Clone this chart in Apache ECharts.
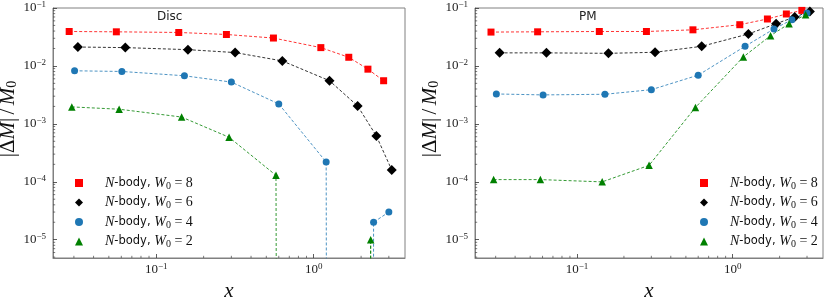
<!DOCTYPE html>
<html>
<head>
<meta charset="utf-8">
<script src="https://cdn.jsdelivr.net/npm/echarts@6/dist/echarts.min.js"></script>
<style>
html,body{margin:0;padding:0;background:#fff;}
#chart{width:830px;height:302px;}
</style>
</head>
<body>
<div id="chart"></div>
<script>
// ---- data ----
// matplotlib clips non-positive values on a log axis; they are drawn as an (almost) infinitely low point
const NONPOS = 1e-300;

const X_W8 = [0.028, 0.0558, 0.139, 0.279, 0.555, 1.11, 1.67, 2.21, 2.78];
const X_W6 = [0.0318, 0.0636, 0.159, 0.317, 0.632, 1.26, 1.90, 2.50, 3.13];
const X_W4 = [0.0303, 0.0605, 0.151, 0.300, 0.600, 1.20, 1.84, 2.40, 3.00];
const X_W2 = [0.0291, 0.0581, 0.145, 0.290, 0.576, 1.17, 1.75, 2.30, 2.94];

const DISC_W8 = [0.0393, 0.0388, 0.0378, 0.0349, 0.0303, 0.0207, 0.0141, 0.00879, 0.00555];
const DISC_W6 = [0.0212, 0.0207, 0.0191, 0.0170, 0.0122, 0.00555, 0.00204, 0.000618, 0.000160];
const DISC_W4 = [0.00824, 0.00802, 0.00676, 0.00526, 0.00221, 0.000219, NONPOS, 2.0e-5, 3.0e-5];
const DISC_W2 = [0.00196, 0.00179, 0.00131, 0.000587, 0.000129, NONPOS, NONPOS, 1.0e-5, NONPOS];

const PM_W8 = [0.0384, 0.0388, 0.0393, 0.0393, 0.0420, 0.0515, 0.0646, 0.0788, 0.0909];
const PM_W6 = [0.0168, 0.0168, 0.0165, 0.0172, 0.0218, 0.0356, 0.0536, 0.0700, 0.0873];
const PM_W4 = [0.00328, 0.00316, 0.00324, 0.00389, 0.00693, 0.0218, 0.0435, 0.0628, 0.0820];
const PM_W2 = [1.09e-4, 1.09e-4, 9.96e-5, 1.92e-4, 0.00192, 0.0143, 0.0333, 0.0536, 0.0766];

const PANEL_TITLES = ['Disc', 'PM'];
const SERIES_NAMES = ['N-body, W0 = 8', 'N-body, W0 = 6', 'N-body, W0 = 4', 'N-body, W0 = 2'];
const W_VALUES = ['8', '6', '4', '2'];

const X_MIN = 0.0221, X_MAX = 3.8;
const Y_MIN = 4.83e-6, Y_MAX = 0.1;

// ---- styles ----
const COLORS = ['#ff0000', '#000000', '#1f77b4', '#008000'];
const SYMBOLS = ['rect', 'diamond', 'circle', 'triangle'];
const SYMBOL_SIZES = [7, 10, 7, 7.5];
const SERIF = 'Liberation Serif';
const SANS = 'DejaVu Sans';

function zip(xs, ys) { return xs.map((x, i) => [x, ys[i]]); }

const XS = [X_W8, X_W6, X_W4, X_W2];
const PANELS = [[DISC_W8, DISC_W6, DISC_W4, DISC_W2], [PM_W8, PM_W6, PM_W4, PM_W2]];

const grids = [
  {left: 53, top: 8, width: 352, height: 250},
  {left: 475, top: 8, width: 348, height: 250}
];

function powLabel(v) {
  const e = Math.round(Math.log10(v));
  if (Math.abs(Math.log10(v) - e) > 1e-6) return '';
  const s = e < 0 ? '\u2212' + (-e) : String(e);
  return '{b|10}{s|' + s + '}';
}
const tickRich = {
  b: {fontFamily: SERIF, fontSize: 13, color: '#222'},
  s: {fontFamily: SERIF, fontSize: 9, color: '#222', padding: [0, 0, 7, 0]}
};

// minor tick positions (axis decoration)
function minorTicks(lo, hi) {
  const out = [];
  for (let e = Math.floor(Math.log10(lo)); e <= Math.ceil(Math.log10(hi)); e++) {
    for (let m = 2; m <= 9; m++) {
      const v = m * Math.pow(10, e);
      if (v > lo && v < hi) out.push(v);
    }
  }
  return out;
}
const MINOR_X = minorTicks(X_MIN, X_MAX);
const MINOR_Y = minorTicks(Y_MIN, Y_MAX);

const xAxes = [], yAxes = [], series = [], titles = [], legends = [];

for (let p = 0; p < 2; p++) {
  xAxes.push({
    type: 'log', logBase: 10, gridIndex: p, min: X_MIN, max: X_MAX,
    axisLine: {show: true, lineStyle: {color: '#808080', width: 1}},
    axisTick: {show: true, inside: true, length: 4, lineStyle: {color: '#333', width: 0.8}},
    axisLabel: {formatter: powLabel, rich: tickRich, margin: 4, showMinLabel: false, showMaxLabel: false},
    splitLine: {show: false},
    name: 'x', nameLocation: 'middle', nameGap: 15,
    nameTextStyle: {fontFamily: SERIF, fontStyle: 'italic', fontSize: 21, color: '#111'}
  });
  yAxes.push({
    type: 'log', logBase: 10, gridIndex: p, min: Y_MIN, max: Y_MAX,
    axisLine: {show: true, lineStyle: {color: '#808080', width: 1}},
    axisTick: {show: true, inside: true, length: 4, lineStyle: {color: '#333', width: 0.8}},
    axisLabel: {formatter: powLabel, rich: tickRich, margin: 7, showMinLabel: false},
    splitLine: {show: false},
    name: '{a||}{d|\u0394}{m|M}{a||} {a|/} {m|M}{sub|0}',
    nameLocation: 'middle', nameGap: 25,
    nameTextStyle: {
      padding: [0, 0, 0, 28],
      rich: {
        a: {fontFamily: SERIF, fontSize: 21, color: '#111'},
        d: {fontFamily: SERIF, fontSize: 21, color: '#111'},
        m: {fontFamily: SERIF, fontStyle: 'italic', fontSize: 21, color: '#111'},
        sub: {fontFamily: SERIF, fontSize: 14, color: '#111', padding: [8, 0, 0, 0]}
      }
    }
  });
  const g = grids[p];
  titles.push({
    text: PANEL_TITLES[p], left: g.left + 104, top: 11, padding: 0,
    textStyle: {fontFamily: SANS, fontSize: 12, fontWeight: 'normal', color: '#222'}
  });
  for (let s = 0; s < 4; s++) {
    series.push({
      type: 'line', name: SERIES_NAMES[s], xAxisIndex: p, yAxisIndex: p,
      data: zip(XS[s], PANELS[p][s]),
      symbol: SYMBOLS[s], symbolSize: SYMBOL_SIZES[s], showSymbol: true,
      itemStyle: {color: COLORS[s]},
      lineStyle: {color: COLORS[s], width: 0.8, type: [3, 2]},
      clip: true, animation: false, silent: true
    });
  }
  // minor ticks drawn through the axis scales
  series.push({
    type: 'custom', xAxisIndex: p, yAxisIndex: p, silent: true, animation: false, clip: false,
    data: MINOR_X.map(v => [v, 'x']).concat(MINOR_Y.map(v => [v, 'y'])),
    dimensions: ['v', 'axis'],
    encode: {x: -1, y: -1},
    renderItem: function (params, api) {
      const cs = params.coordSys;
      const v = api.value(0);
      const axis = api.value(1);
      let shape;
      if (axis === 'x') {
        const px = api.coord([v, Y_MAX])[0];
        shape = {x1: px, y1: cs.y + cs.height, x2: px, y2: cs.y + cs.height - 2.2};
      } else {
        const py = api.coord([X_MAX, v])[1];
        shape = {x1: cs.x, y1: py, x2: cs.x + 2.2, y2: py};
      }
      return {type: 'line', shape: shape, style: {stroke: '#444', lineWidth: 0.7}};
    }
  });
  legends.push({
    orient: 'vertical', padding: 0,
    left: p === 0 ? 75 : 700, top: 175,
    itemWidth: 8, itemHeight: 8, itemGap: 3.5,
    data: SERIES_NAMES.map((n, i) => ({name: n, icon: SYMBOLS[i]})),
    selectedMode: false,
    formatter: function (name) {
      const i = SERIES_NAMES.indexOf(name);
      return '{gap|}{it|N}{tx|-body, }{it|W}{sub|0}{rm| = ' + W_VALUES[i] + '}';
    },
    textStyle: {
      lineHeight: 16,
      rich: {
        gap: {width: 17},
        it: {fontFamily: SERIF, fontStyle: 'italic', fontSize: 14, color: '#111'},
        tx: {fontFamily: SANS, fontSize: 11.5, color: '#111'},
        sub: {fontFamily: SERIF, fontSize: 10, color: '#111', padding: [6, 0, 0, 0]},
        rm: {fontFamily: SERIF, fontSize: 14, color: '#111'}
      }
    }
  });
}

const chart = echarts.init(document.getElementById('chart'), null, {renderer: 'canvas'});
chart.setOption({
  animation: false,
  backgroundColor: '#ffffff',
  title: titles,
  legend: legends,
  grid: grids.map(g => Object.assign({
    show: true, borderColor: '#808080', borderWidth: 1,
    containLabel: false, outerBoundsMode: 'none'
  }, g)),
  xAxis: xAxes,
  yAxis: yAxes,
  series: series
});
</script>
</body>
</html>
